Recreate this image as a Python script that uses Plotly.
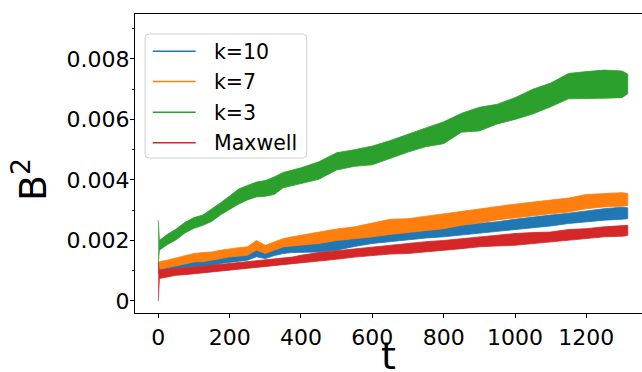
import plotly.graph_objects as go

# time grid (t) and band envelopes (lower/upper) in units of 1e-3
t = [0, 3, 25, 50, 75, 100, 125, 150, 175, 200, 225, 250, 275, 300, 325, 350, 375, 400,
     450, 500, 550, 600, 650, 700, 750, 800, 850, 900, 950, 1000, 1050, 1100, 1150,
     1200, 1250, 1300, 1316]

k10_lo = [0.90, 0.96, 1.00, 1.07, 1.10, 1.12, 1.15, 1.18, 1.24, 1.29, 1.32, 1.35, 1.46, 1.40,
          1.50, 1.57, 1.60, 1.62, 1.62, 1.68, 1.80, 1.90, 1.98, 2.02, 2.08, 2.12, 2.18, 2.22,
          2.28, 2.34, 2.42, 2.48, 2.56, 2.62, 2.67, 2.70, 2.72]
k10_hi = [1.15, 1.18, 1.20, 1.24, 1.30, 1.35, 1.40, 1.46, 1.49, 1.51, 1.57, 1.62, 1.73, 1.62,
          1.72, 1.79, 1.84, 1.90, 1.95, 2.03, 2.15, 2.26, 2.30, 2.34, 2.40, 2.45, 2.50, 2.56,
          2.62, 2.70, 2.78, 2.84, 2.90, 2.98, 3.05, 3.10, 3.08]

k7_lo = [0.95, 1.05, 1.10, 1.17, 1.22, 1.29, 1.30, 1.35, 1.40, 1.46, 1.48, 1.51, 1.68, 1.57,
         1.68, 1.79, 1.82, 1.84, 1.90, 2.00, 2.06, 2.12, 2.20, 2.28, 2.33, 2.39, 2.50, 2.58,
         2.68, 2.74, 2.82, 2.88, 2.94, 3.05, 3.11, 3.13, 3.15]
k7_hi = [1.30, 1.30, 1.35, 1.42, 1.50, 1.57, 1.60, 1.62, 1.68, 1.73, 1.76, 1.79, 2.00, 1.84,
         1.96, 2.06, 2.12, 2.17, 2.27, 2.38, 2.45, 2.58, 2.70, 2.72, 2.80, 2.89, 2.98, 3.05,
         3.12, 3.20, 3.27, 3.33, 3.40, 3.52, 3.56, 3.58, 3.55]

k3_lo = [1.20, 1.68, 1.86, 2.02, 2.25, 2.40, 2.50, 2.63, 2.85, 3.03, 3.20, 3.34, 3.44, 3.46,
         3.52, 3.74, 3.82, 3.87, 4.02, 4.33, 4.45, 4.50, 4.70, 4.92, 5.10, 5.20, 5.58, 5.62,
         5.85, 6.00, 6.18, 6.42, 6.68, 6.70, 6.70, 6.72, 6.85]
k3_hi = [2.67, 2.00, 2.20, 2.38, 2.60, 2.76, 2.84, 3.04, 3.25, 3.47, 3.70, 3.82, 3.93, 3.98,
         4.10, 4.25, 4.32, 4.40, 4.60, 4.90, 5.00, 5.12, 5.30, 5.52, 5.72, 5.92, 6.20, 6.40,
         6.50, 6.72, 7.00, 7.20, 7.52, 7.58, 7.63, 7.60, 7.50]

mx_lo = [0.00, 0.74, 0.80, 0.85, 0.87, 0.90, 0.93, 0.96, 0.98, 1.01, 1.04, 1.07, 1.10, 1.12,
         1.15, 1.18, 1.21, 1.24, 1.32, 1.38, 1.45, 1.51, 1.55, 1.57, 1.62, 1.68, 1.73, 1.79,
         1.82, 1.84, 1.90, 1.95, 2.02, 2.06, 2.12, 2.14, 2.16]
mx_hi = [1.26, 1.01, 1.05, 1.07, 1.10, 1.12, 1.15, 1.18, 1.21, 1.24, 1.27, 1.29, 1.32, 1.35,
         1.38, 1.40, 1.45, 1.51, 1.60, 1.66, 1.72, 1.79, 1.84, 1.90, 1.96, 2.00, 2.06, 2.12,
         2.18, 2.23, 2.26, 2.28, 2.36, 2.39, 2.45, 2.50, 2.50]

UNIT = 1e-3
names = ["k=10", "k=7", "k=3", "Maxwell"]
colors = ["#1f77b4", "#ff7f0e", "#2ca02c", "#d62728"]
bands = [(k10_lo, k10_hi), (k7_lo, k7_hi), (k3_lo, k3_hi), (mx_lo, mx_hi)]

y_ticks = [0, 0.002, 0.004, 0.006, 0.008]
y_ticktext = ["0", "0.002", "0.004", "0.006", "0.008"]
x_ticks = [0, 200, 400, 600, 800, 1000, 1200]

FONT = "DejaVu Sans"
W, H = 642, 372
ML, MR, MT, MB = 135, 0, 14, 59
PW, PH = W - ML - MR, H - MT - MB


def px(xp):
    return (xp - ML) / PW


def py(yp):
    return (H - MB - yp) / PH


fig = go.Figure()
for name, col, (lo, hi) in zip(names, colors, bands):
    xs = t + t[::-1]
    ys = [v * UNIT for v in hi] + [v * UNIT for v in lo[::-1]]
    fig.add_trace(go.Scatter(x=xs, y=ys, fill="toself", fillcolor=col, mode="lines",
                             line=dict(color=col, width=0.8), name=name, showlegend=False,
                             hoverinfo="skip"))

# legend drawn as frame + sample lines + labels
lx0, lx1, ly0, ly1, r = 145, 306.7, 34, 158, 4
rx, ry = r / PW, r / PH
X0, X1, Y0, Y1 = px(lx0), px(lx1), py(ly0), py(ly1)
path = (f"M {X0+rx},{Y0} L {X1-rx},{Y0} Q {X1},{Y0} {X1},{Y0-ry} "
        f"L {X1},{Y1+ry} Q {X1},{Y1} {X1-rx},{Y1} L {X0+rx},{Y1} "
        f"Q {X0},{Y1} {X0},{Y1+ry} L {X0},{Y0-ry} Q {X0},{Y0} {X0+rx},{Y0} Z")
shapes = [dict(type="path", path=path, xref="paper", yref="paper",
               fillcolor="rgba(255,255,255,0.8)", line=dict(color="#d0d0d0", width=1),
               layer="above")]
annotations = []
item_y = [51.3, 81.6, 112.2, 142.8]
for name, col, iy in zip(names, colors, item_y):
    shapes.append(dict(type="line", xref="paper", yref="paper", x0=px(152.7), x1=px(195.7),
                       y0=py(iy), y1=py(iy), line=dict(color=col, width=1.5), layer="above"))
    annotations.append(dict(text=name, x=px(211.5), y=py(iy + 0.5), xref="paper", yref="paper",
                            showarrow=False, xanchor="left", yanchor="middle",
                            font=dict(family=FONT, size=20.5, color="black")))

annotations += [
    dict(text="B<sup>2</sup>", x=px(30), y=py(180), xref="paper", yref="paper",
         textangle=-90, showarrow=False, xanchor="center", yanchor="middle",
         font=dict(family=FONT, size=38, color="black")),
    dict(text="t", x=px(388), y=py(356), xref="paper", yref="paper", showarrow=False,
         xanchor="center", yanchor="middle",
         font=dict(family=FONT, size=38, color="black")),
]

fig.update_layout(
    width=W, height=H,
    margin=dict(l=ML, r=MR, t=MT, b=MB),
    paper_bgcolor="white", plot_bgcolor="white",
    font=dict(family=FONT, size=22, color="black"),
    showlegend=False,
    xaxis=dict(range=[-65.3, 1356], tickvals=x_ticks, showgrid=False, zeroline=False,
               showline=True, linecolor="black", linewidth=1.3, mirror=True,
               ticks="outside", ticklen=4, tickwidth=1, tickcolor="black",
               tickfont=dict(family=FONT, size=22, color="black")),
    yaxis=dict(range=[-0.000397, 0.009484], tickvals=y_ticks, ticktext=y_ticktext,
               showgrid=False, zeroline=False, showline=True, linecolor="black",
               linewidth=1.3, mirror=False, ticks="outside", ticklen=4, tickwidth=1,
               tickcolor="black", tickfont=dict(family=FONT, size=22, color="black"),
               ticklabelstandoff=-4,
               minor=dict(dtick=0.001, tick0=0, ticks="outside", ticklen=2,
                          tickcolor="black", tickwidth=1)),
    shapes=shapes,
    annotations=annotations,
)

fig.write_html("out.html", config={"displayModeBar": False},
               post_script="document.body.style.margin='0';document.body.style.overflow='hidden';")
